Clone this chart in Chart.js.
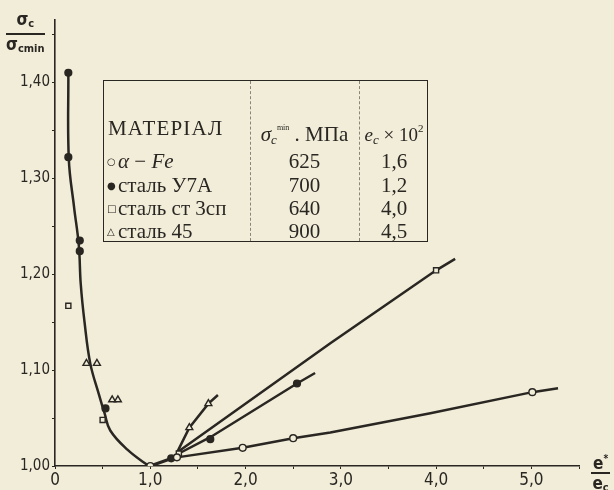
<!DOCTYPE html>
<html>
<head>
<meta charset="utf-8">
<script src="https://cdn.jsdelivr.net/npm/chart.js@4.4.1/dist/chart.umd.min.js"></script>
<style>
  html, body { margin: 0; padding: 0; background: #f1edd9; }
  #wrap { position: relative; width: 614px; height: 490px; overflow: hidden; }
  #chart { position: absolute; left: 0; top: 0; }
  .frac { position: absolute; font-family: "DejaVu Sans Condensed", "DejaVu Sans", sans-serif; font-weight: bold; color: #2a2622; text-align: center; }
  .frac .num { display: block; font-size: 17px; line-height: 18px; padding: 0 2px; border-bottom: 2px solid #2a2622; }
  .frac .den { display: block; font-size: 17px; line-height: 18px; }
  .frac sub { font-size: 11px; vertical-align: -2px; }
  .tbl { position: absolute; left: 103px; top: 80px; width: 325px; height: 162px; box-sizing: border-box;
         border: 1.6px solid #2a2622; font-family: "Liberation Serif", serif; font-size: 21px; color: #2a2622; }
  .tbl .vd { position: absolute; top: 0; bottom: 0; border-left: 1px dashed #8a857a; }
  .tbl .t { position: absolute; line-height: 22px; white-space: nowrap; }
  .tbl .c2 { left: 146px; width: 109px; text-align: center; }
  .tbl .c3 { left: 252px; width: 76px; text-align: center; }
  .tbl .mk { font-family: "DejaVu Sans", sans-serif; font-size: 10px; display: inline-block; width: 11px; vertical-align: 3px; }
  .tbl i { font-style: italic; }
  .tbl sub { font-size: 13px; vertical-align: -3px; }
  .tbl sup { font-size: 8px; vertical-align: 11px; }
</style>
</head>
<body>
<div id="wrap">
  <canvas id="chart" width="614" height="490"></canvas>

  <div class="frac" style="left:6px; top:10px;">
    <span class="num">σ<sub>c</sub></span>
    <span class="den">σ<sub>cmin</sub></span>
  </div>

  <div class="frac" style="left:591px; top:450px;">
    <span class="num">e<sup style="font-size:10px">*</sup></span>
    <span class="den">e<sub>c</sub></span>
  </div>

  <div class="tbl">
    <div class="vd" style="left:146px"></div>
    <div class="vd" style="left:255px"></div>
    <div class="t" style="left:4px; top:36px; letter-spacing:1.2px;">МАТЕРІАЛ</div>
    <div class="t c2" style="top:36px;"><i>σ<sub>c</sub></i><sup>min</sup> . МПа</div>
    <div class="t c3" style="top:36px; font-size:19px;"><i>e<sub>c</sub></i> × 10<sup style="font-size:11px;vertical-align:9px">2</sup></div>

    <div class="t" style="left:3px; top:69px;"><span class="mk">○</span><i>α</i> − <i>Fe</i></div>
    <div class="t" style="left:3px; top:93px;"><span class="mk">●</span>сталь У7А</div>
    <div class="t" style="left:3px; top:116px;"><span class="mk">□</span>сталь ст 3сп</div>
    <div class="t" style="left:3px; top:139px;"><span class="mk">△</span>сталь 45</div>

    <div class="t c2" style="top:69px;">625</div>
    <div class="t c2" style="top:93px;">700</div>
    <div class="t c2" style="top:116px;">640</div>
    <div class="t c2" style="top:139px;">900</div>

    <div class="t c3" style="top:69px;">1,6</div>
    <div class="t c3" style="top:93px;">1,2</div>
    <div class="t c3" style="top:116px;">4,0</div>
    <div class="t c3" style="top:139px;">4,5</div>
  </div>
</div>

<script>
// ticks
const xTickValues = [0, 0.5, 1, 1.5, 2, 2.5, 3, 3.5, 4, 4.5, 5, 5.5];
const xLabelValues = [0, 1, 2, 3, 4, 5];
const yTickValues = [1.00, 1.05, 1.10, 1.15, 1.20, 1.25, 1.30, 1.35, 1.40, 1.45];
const yLabelValues = [1.00, 1.10, 1.20, 1.30, 1.40];

// common curve to the left of the minimum (e*/ec < 1)
const curveLeft = [[0.14, 1.41], [0.145, 1.32], [0.20, 1.27], [0.25, 1.23], [0.27, 1.19], [0.31, 1.15],
                   [0.37, 1.107], [0.46, 1.075], [0.52, 1.055], [0.58, 1.037], [0.76, 1.017], [0.97, 1.001], [1.0, 1.0]];
const curveMin = [[1.0, 1.0], [1.28, 1.01]];

// branches to the right of the minimum
const lineFe = [[1.28, 1.009], [1.97, 1.019], [2.50, 1.029], [2.89, 1.035], [3.94, 1.055], [5.01, 1.077], [5.28, 1.081]];
const lineU7A = [[1.28, 1.012], [1.63, 1.030], [2.54, 1.086], [2.73, 1.097]];
const line3sp = [[1.28, 1.014], [2.89, 1.128], [4.0, 1.204], [4.2, 1.216]];
const line45 = [[1.28, 1.014], [1.41, 1.040], [1.61, 1.065], [1.71, 1.074]];

// measured points
const ptsFe = [[1.0, 1.0], [1.28, 1.009], [1.97, 1.019], [2.50, 1.029], [5.01, 1.077]];
const ptsU7A = [[0.14, 1.41], [0.14, 1.322], [0.26, 1.235], [0.26, 1.224], [0.53, 1.06], [1.22, 1.008], [1.63, 1.028], [2.54, 1.086]];
const pts3sp = [[0.14, 1.167], [0.50, 1.048], [1.30, 1.013], [4.0, 1.204]];
const pts45 = [[0.33, 1.107], [0.44, 1.107], [0.60, 1.069], [0.66, 1.069], [1.41, 1.040], [1.61, 1.065]];

const ink = '#2a2622';
const paper = '#f1edd9';

const toXY = arr => arr.map(p => ({ x: p[0], y: p[1] }));

const line = (data, w) => ({
  data: toXY(data), showLine: true, borderColor: ink, borderWidth: w || 2.5,
  pointRadius: 0, tension: 0, order: 2
});
const marks = (data, style, fill, r) => ({
  data: toXY(data), showLine: false, pointStyle: style, pointRadius: r,
  pointBackgroundColor: fill, pointBorderColor: ink, pointBorderWidth: 1.4, order: 1
});

new Chart(document.getElementById('chart'), {
  type: 'scatter',
  data: {
    datasets: [
      Object.assign(line(curveLeft), { tension: 0.4 }),
      line(curveMin, 3.2),
      line(lineFe),
      line(lineU7A),
      line(line3sp),
      line(line45),
      marks(ptsFe, 'circle', paper, 3.4),
      marks(ptsU7A, 'circle', ink, 3.4),
      marks(pts3sp, 'rect', paper, 3.6),
      marks(pts45, 'triangle', paper, 4)
    ]
  },
  options: {
    responsive: false,
    animation: false,
    layout: { padding: { left: 0, right: 35, top: 20, bottom: 0 } },
    plugins: { legend: { display: false }, tooltip: { enabled: false } },
    scales: {
      x: {
        type: 'linear', min: 0, max: 5.5,
        afterBuildTicks: s => { s.ticks = xTickValues.map(v => ({ value: v })); },
        afterFit: s => { s.height = 24; },
        border: { color: ink, width: 1.6 },
        grid: { drawOnChartArea: false, tickLength: 3, color: ink },
        ticks: {
          autoSkip: false, maxRotation: 0, padding: 1, color: ink,
          font: { family: 'DejaVu Sans Condensed', size: 17 },
          callback: v => xLabelValues.includes(v) ? (v === 0 ? '0' : v.toFixed(1).replace('.', ',')) : ''
        }
      },
      y: {
        type: 'linear', min: 1.0, max: 1.465,
        afterBuildTicks: s => { s.ticks = yTickValues.map(v => ({ value: v })); },
        afterFit: s => { s.width = 55; },
        border: { color: ink, width: 1.6 },
        grid: { drawOnChartArea: false, tickLength: 3, color: ink },
        ticks: {
          autoSkip: false, padding: 2, color: ink,
          font: { family: 'DejaVu Sans Condensed', size: 15 },
          callback: v => yLabelValues.some(l => Math.abs(l - v) < 1e-6) ? v.toFixed(2).replace('.', ',') : ''
        }
      }
    }
  }
});
</script>
</body>
</html>
